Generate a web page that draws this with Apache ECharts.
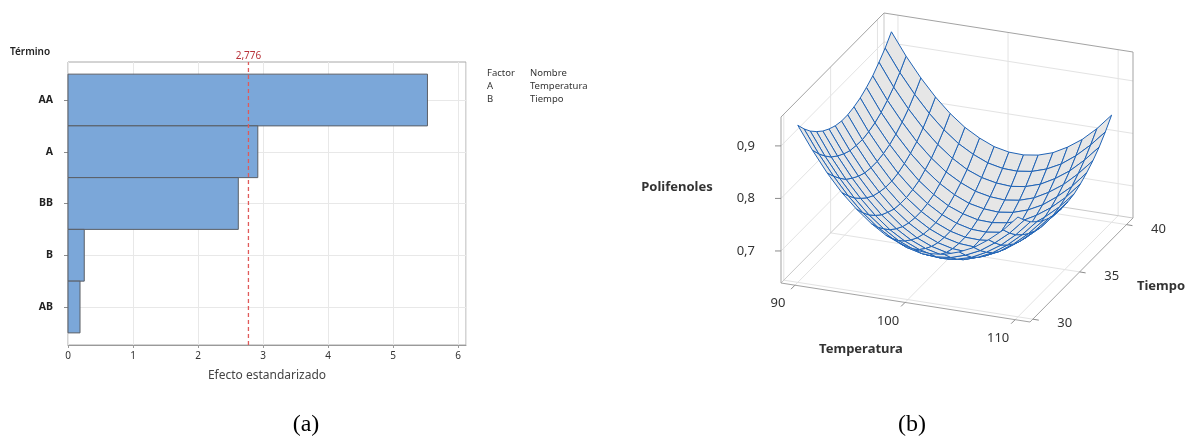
<!DOCTYPE html>
<html>
<head>
<meta charset="utf-8">
<title>Pareto y superficie de respuesta</title>
<script src="https://cdn.jsdelivr.net/npm/echarts@6/dist/echarts.min.js"></script>
<style>
  html, body { margin: 0; padding: 0; background: #fff; }
  #main { width: 1193px; height: 438px; }
</style>
</head>
<body>
<div id="main"></div>
<script>
// ---------- (a) Pareto de efectos estandarizados ----------
const terminos = ['AA', 'A', 'BB', 'B', 'AB'];
const efectos = [5.53, 2.92, 2.62, 0.25, 0.185];
const valorCritico = 2.776;
const efectoMax = 6.123;
const factores = ['A', 'B'];
const nombresFactor = ['Temperatura', 'Tiempo'];

// ---------- (b) Superficie: Polifenoles vs Temperatura, Tiempo ----------
const temperatura = [90, 91.33, 92.67, 94, 95.33, 96.67, 98, 99.33, 100.67, 102, 103.33, 104.67, 106, 107.33, 108.67, 110];
const tiempo = [30, 30.67, 31.33, 32, 32.67, 33.33, 34, 34.67, 35.33, 36, 36.67, 37.33, 38, 38.67, 39.33, 40];
// one row per tiempo value, one column per temperatura value
const polifenoles = [
  [0.938, 0.895, 0.856, 0.823, 0.796, 0.773, 0.755, 0.743, 0.736, 0.733, 0.736, 0.745, 0.758, 0.777, 0.800, 0.829],
  [0.919, 0.876, 0.838, 0.805, 0.777, 0.754, 0.737, 0.724, 0.717, 0.715, 0.718, 0.727, 0.740, 0.759, 0.782, 0.811],
  [0.903, 0.860, 0.822, 0.789, 0.761, 0.739, 0.721, 0.709, 0.702, 0.700, 0.703, 0.711, 0.725, 0.743, 0.767, 0.796],
  [0.890, 0.846, 0.808, 0.776, 0.748, 0.725, 0.708, 0.696, 0.689, 0.687, 0.690, 0.699, 0.712, 0.731, 0.755, 0.784],
  [0.879, 0.836, 0.798, 0.765, 0.737, 0.715, 0.698, 0.686, 0.679, 0.677, 0.680, 0.689, 0.702, 0.721, 0.745, 0.774],
  [0.871, 0.828, 0.790, 0.757, 0.730, 0.707, 0.690, 0.678, 0.671, 0.669, 0.673, 0.681, 0.695, 0.714, 0.738, 0.767],
  [0.865, 0.822, 0.784, 0.752, 0.724, 0.702, 0.685, 0.673, 0.666, 0.664, 0.668, 0.677, 0.690, 0.709, 0.733, 0.763],
  [0.862, 0.820, 0.782, 0.749, 0.722, 0.700, 0.683, 0.671, 0.664, 0.662, 0.666, 0.675, 0.688, 0.707, 0.732, 0.761],
  [0.862, 0.819, 0.782, 0.749, 0.722, 0.700, 0.683, 0.671, 0.664, 0.663, 0.666, 0.675, 0.689, 0.708, 0.732, 0.762],
  [0.865, 0.822, 0.785, 0.752, 0.725, 0.703, 0.686, 0.674, 0.667, 0.666, 0.670, 0.678, 0.692, 0.712, 0.736, 0.765],
  [0.870, 0.827, 0.790, 0.758, 0.730, 0.708, 0.691, 0.680, 0.673, 0.672, 0.676, 0.684, 0.699, 0.718, 0.742, 0.772],
  [0.878, 0.835, 0.798, 0.766, 0.739, 0.717, 0.700, 0.688, 0.682, 0.680, 0.684, 0.693, 0.707, 0.727, 0.751, 0.781],
  [0.888, 0.846, 0.809, 0.776, 0.749, 0.727, 0.711, 0.699, 0.693, 0.691, 0.695, 0.704, 0.719, 0.738, 0.763, 0.792],
  [0.902, 0.859, 0.822, 0.790, 0.763, 0.741, 0.724, 0.713, 0.707, 0.705, 0.709, 0.718, 0.733, 0.752, 0.777, 0.806],
  [0.917, 0.875, 0.838, 0.806, 0.779, 0.757, 0.741, 0.729, 0.723, 0.722, 0.726, 0.735, 0.749, 0.769, 0.794, 0.823],
  [0.936, 0.894, 0.857, 0.825, 0.798, 0.776, 0.760, 0.748, 0.742, 0.741, 0.745, 0.754, 0.769, 0.788, 0.813, 0.843]
];
const tempTicks = [90, 100, 110];
const tiempoTicks = [30, 35, 40];
const polTicks = [0.7, 0.8, 0.9];
const tempRange = [88.73, 111.35];
const tiempoRange = [29.7, 40.7];
const polRange = [0.639, 0.955];

// ---------- oblique projection of the 3D box onto grid 2 ----------
const caja = { o: [3, 270], ex: [249, 39], ey: [103, -104], ez: [0, -166] };
const frac = (v, r) => (v - r[0]) / (r[1] - r[0]);
function proyectar(T, t, z) {
  const a = frac(T, tempRange), b = frac(t, tiempoRange), c = frac(z, polRange);
  return [caja.o[0] + a * caja.ex[0] + b * caja.ey[0] + c * caja.ez[0],
          caja.o[1] + a * caja.ex[1] + b * caja.ey[1] + c * caja.ez[1]];
}
// distance along the viewing direction (larger = farther away)
function profundidad(T, t, z) {
  return -0.4137 * frac(T, tempRange) + frac(t, tiempoRange) - 0.7237 * frac(z, polRange);
}

const [T0, T1] = tempRange, [t0, t1] = tiempoRange, [z0, z1] = polRange;

const rejilla = [];
tempTicks.forEach(T => { rejilla.push([[T, t1, z0], [T, t1, z1]]); rejilla.push([[T, t0, z0], [T, t1, z0]]); });
tiempoTicks.forEach(t => { rejilla.push([[T0, t, z0], [T0, t, z1]]); rejilla.push([[T0, t, z0], [T1, t, z0]]); });
polTicks.forEach(z => { rejilla.push([[T0, t1, z], [T1, t1, z]]); rejilla.push([[T0, t0, z], [T0, t1, z]]); });

const bordesFondo = [
  [[T0, t1, z0], [T0, t1, z1]],
  [[T0, t0, z0], [T0, t1, z0]],
  [[T0, t1, z0], [T1, t1, z0]]
];
const bordes = [
  [[T0, t0, z0], [T0, t0, z1]],
  [[T0, t0, z1], [T0, t1, z1]],
  [[T0, t1, z1], [T1, t1, z1]],
  [[T1, t1, z1], [T1, t1, z0]],
  [[T0, t0, z0], [T1, t0, z0]],
  [[T1, t0, z0], [T1, t1, z0]]
];

const celdas = [];
for (let j = 0; j < tiempo.length - 1; j++) {
  for (let i = 0; i < temperatura.length - 1; i++) {
    const esq = [[i, j], [i + 1, j], [i + 1, j + 1], [i, j + 1]]
      .map(([a, b]) => [temperatura[a], tiempo[b], polifenoles[b][a]]);
    const d = esq.reduce((s, p) => s + profundidad(p[0], p[1], p[2]), 0) / 4;
    celdas.push({ esq, d });
  }
}
celdas.sort((a, b) => b.d - a.d);

const FONT = '"Noto Sans", "DejaVu Sans", sans-serif';

function serieLineas(lista, color, z) {
  return {
    type: 'custom', coordinateSystem: 'cartesian2d', xAxisIndex: 2, yAxisIndex: 2,
    silent: true, clip: false, z: z,
    data: lista.map((s, k) => [k, 0]),
    renderItem: (params, api) => {
      const pts = lista[params.dataIndex].map(p => api.coord(proyectar(p[0], p[1], p[2])));
      return { type: 'polyline', shape: { points: pts }, style: { stroke: color, lineWidth: 1, fill: null } };
    }
  };
}

function serieEje(ticks, punto, dirTick, offLabel, align, fmt) {
  return {
    type: 'custom', coordinateSystem: 'cartesian2d', xAxisIndex: 2, yAxisIndex: 2,
    silent: true, clip: false, z: 6,
    data: ticks.map((v, k) => [k, 0]),
    renderItem: (params, api) => {
      const v = ticks[params.dataIndex];
      const p = api.coord(punto(v));
      return {
        type: 'group',
        children: [
          { type: 'line', shape: { x1: p[0], y1: p[1], x2: p[0] + dirTick[0], y2: p[1] + dirTick[1] },
            style: { stroke: '#8c8c8c', lineWidth: 1 } },
          { type: 'text', x: p[0] + offLabel[0], y: p[1] + offLabel[1],
            style: { text: fmt(v), fill: '#333', font: '13px ' + FONT,
                     textAlign: align, align: align, textVerticalAlign: 'middle', verticalAlign: 'middle' } }
        ]
      };
    }
  };
}

const chart = echarts.init(document.getElementById('main'), null, { renderer: 'canvas' });

const option = {
  animation: false,
  backgroundColor: '#fff',
  textStyle: { fontFamily: FONT },
  grid: [
    { left: 68, top: 62, width: 398, height: 283, show: true, borderColor: '#a8a8a8', borderWidth: 1, backgroundColor: 'transparent' },
    { left: 68, top: 100, width: 398, height: 207 },
    { left: 778, top: 13, width: 355, height: 309 }
  ],
  xAxis: [
    {
      gridIndex: 0, type: 'value', min: 0, max: efectoMax, interval: 1,
      axisLine: { show: true, lineStyle: { color: '#9a9a9a' } },
      axisTick: { show: true, length: 3, lineStyle: { color: '#9a9a9a' } },
      axisLabel: { color: '#333', fontSize: 10, margin: 6, showMaxLabel: false, fontFamily: FONT },
      splitLine: { show: true, lineStyle: { color: '#e8e8e8' } },
      name: 'Efecto estandarizado', nameLocation: 'middle', nameGap: 25,
      nameTextStyle: { fontSize: 12, color: '#444', fontFamily: FONT }
    },
    { gridIndex: 1, type: 'value', min: 0, max: efectoMax, show: false },
    { gridIndex: 2, type: 'value', min: 0, max: 355, show: false }
  ],
  yAxis: [
    { gridIndex: 0, type: 'value', min: 0, max: 1, show: false },
    {
      gridIndex: 1, type: 'value', min: 0, max: 4, interval: 1, inverse: true, offset: 5,
      axisLine: { show: false },
      axisTick: { show: true, length: 4, lineStyle: { color: '#8c8c8c' } },
      axisLabel: { formatter: v => terminos[v] || '', color: '#222', fontWeight: 'bold', fontSize: 10.5, margin: 10, fontFamily: FONT },
      splitLine: { show: true, lineStyle: { color: '#e8e8e8' } }
    },
    { gridIndex: 2, type: 'value', min: 0, max: 309, inverse: true, show: false }
  ],
  graphic: [
    { type: 'text', x: 10, y: 52, style: { text: 'Término', font: '600 10px ' + FONT, fill: '#222', textVerticalAlign: 'middle', verticalAlign: 'middle' } },
    { type: 'text', x: 487, y: 73, style: { text: 'Factor', font: '9.5px ' + FONT, fill: '#333', textVerticalAlign: 'middle', verticalAlign: 'middle' } },
    { type: 'text', x: 530, y: 73, style: { text: 'Nombre', font: '9.5px ' + FONT, fill: '#333', textVerticalAlign: 'middle', verticalAlign: 'middle' } },
    ...factores.map((f, k) => ({ type: 'text', x: 487, y: 86 + 13 * k, style: { text: f, font: '9.5px ' + FONT, fill: '#333', textVerticalAlign: 'middle', verticalAlign: 'middle' } })),
    ...nombresFactor.map((n, k) => ({ type: 'text', x: 530, y: 86 + 13 * k, style: { text: n, font: '9.5px ' + FONT, fill: '#333', textVerticalAlign: 'middle', verticalAlign: 'middle' } })),
    { type: 'text', x: 677, y: 187, style: { text: 'Polifenoles', font: 'bold 13px ' + FONT, fill: '#333', textAlign: 'center', align: 'center', textVerticalAlign: 'middle', verticalAlign: 'middle' } },
    { type: 'text', x: 861, y: 349, style: { text: 'Temperatura', font: 'bold 13px ' + FONT, fill: '#333', textAlign: 'center', align: 'center', textVerticalAlign: 'middle', verticalAlign: 'middle' } },
    { type: 'text', x: 1161, y: 286, style: { text: 'Tiempo', font: 'bold 13px ' + FONT, fill: '#333', textAlign: 'center', align: 'center', textVerticalAlign: 'middle', verticalAlign: 'middle' } },
    { type: 'text', x: 306, y: 425, style: { text: '(a)', font: '24px "Liberation Serif", serif', fill: '#000', textAlign: 'center', align: 'center', textVerticalAlign: 'middle', verticalAlign: 'middle' } },
    { type: 'text', x: 912, y: 425, style: { text: '(b)', font: '24px "Liberation Serif", serif', fill: '#000', textAlign: 'center', align: 'center', textVerticalAlign: 'middle', verticalAlign: 'middle' } }
  ],
  series: [
    // Pareto bars
    {
      type: 'custom', coordinateSystem: 'cartesian2d', xAxisIndex: 1, yAxisIndex: 1, clip: false, z: 3,
      data: efectos.map((v, i) => [v, i]),
      renderItem: (params, api) => {
        const v = api.value(0), i = api.value(1);
        const p0 = api.coord([0, i - 0.5]), p1 = api.coord([v, i + 0.5]);
        return {
          type: 'rect',
          shape: { x: p0[0], y: p0[1], width: p1[0] - p0[0], height: p1[1] - p0[1] },
          style: { fill: '#7ba7d9', stroke: '#5b5f66', lineWidth: 1 }
        };
      }
    },
    // critical value line
    {
      type: 'custom', coordinateSystem: 'cartesian2d', xAxisIndex: 0, yAxisIndex: 0, clip: false, z: 4,
      data: [[valorCritico, 0]],
      renderItem: (params, api) => {
        const v = api.value(0);
        const a = api.coord([v, 0]), b = api.coord([v, 1]);
        return {
          type: 'group',
          children: [
            { type: 'line', shape: { x1: a[0], y1: a[1], x2: b[0], y2: b[1] },
              style: { stroke: '#e05a5a', lineWidth: 1.3, lineDash: [4, 3] } },
            { type: 'text', x: b[0], y: b[1] - 6,
              style: { text: String(v).replace('.', ','), fill: '#b8333a', font: '10px ' + FONT,
                       textAlign: 'center', align: 'center', textVerticalAlign: 'middle', verticalAlign: 'middle' } }
          ]
        };
      }
    },
    // 3D box: wall / floor grid, hidden edges, outer edges
    serieLineas(rejilla, '#e3e3e3', 1),
    serieLineas(bordesFondo, '#c9c9c9', 2),
    serieLineas(bordes, '#a3a3a3', 2),
    // response surface mesh, painted back to front
    {
      type: 'custom', coordinateSystem: 'cartesian2d', xAxisIndex: 2, yAxisIndex: 2,
      silent: true, clip: false, z: 5,
      data: celdas.map((c, k) => [k, 0]),
      renderItem: (params, api) => {
        const c = celdas[params.dataIndex];
        const pts = c.esq.map(p => api.coord(proyectar(p[0], p[1], p[2])));
        return { type: 'polygon', shape: { points: pts },
                 style: { fill: '#e6e6e6', stroke: '#1f63b6', lineWidth: 1, lineJoin: 'round' } };
      }
    },
    // axes of the 3D box
    serieEje(polTicks, z => proyectar(T0, t0, z), [-6, 0], [-26, 0], 'right', v => v.toFixed(1).replace('.', ',')),
    serieEje(tempTicks, T => proyectar(T, t0, z0), [-4, 4], [-17, 18.5], 'center', v => String(v)),
    serieEje(tiempoTicks, t => proyectar(T1, t, z0), [6, 1], [32, 4.5], 'center', v => String(v))
  ]
};

chart.setOption(option);
</script>
</body>
</html>
